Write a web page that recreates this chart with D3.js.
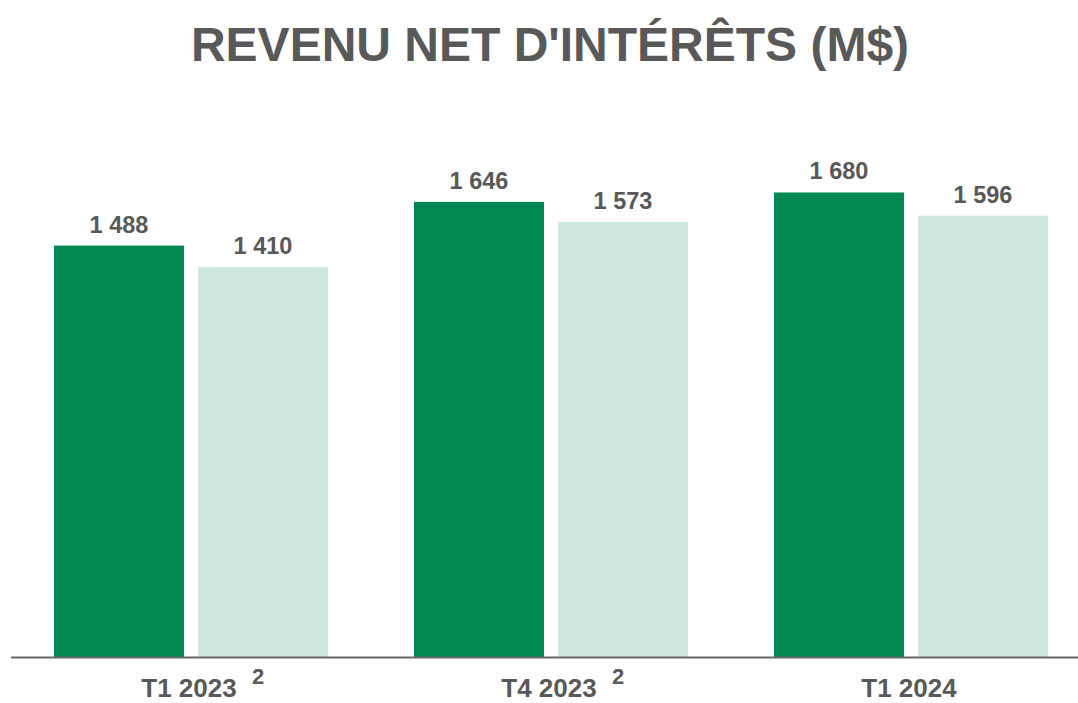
<!DOCTYPE html>
<html>
<head>
<meta charset="utf-8">
<script src="https://cdn.jsdelivr.net/npm/d3@7"></script>
<style>
  html, body { margin: 0; padding: 0; background: #fff; }
  svg { display: block; font-family: "Liberation Sans", Arial, sans-serif; }
</style>
</head>
<body>
<svg id="chart" width="1078" height="703"></svg>
<script>
// data
const categories = ["T1 2023", "T4 2023", "T1 2024"];
const footnotes = ["2", "2", ""];
const series = ["a", "b"];
const seriesA = [1488, 1646, 1680];
const seriesB = [1410, 1573, 1596];

const colors = { a: "#008853", b: "#cde8dc" };
const textColor = "#595959";

const svg = d3.select("#chart");
const W = 1078, H = 703;
const baseY = 657;

const rows = categories.map((c, i) => ({ cat: c, note: footnotes[i], a: seriesA[i], b: seriesB[i] }));

const x0 = d3.scaleBand().domain(categories).range([11, 1091])
  .paddingInner(86 / 360).paddingOuter(43 / 360);
const x1 = d3.scaleBand().domain(series).range([0, x0.bandwidth()])
  .paddingInner(14 / 144).paddingOuter(0);
const y = d3.scaleLinear().domain([0, 2000]).range([baseY, 104]);

const fmt = v => d3.format(",")(v).replace(/,/g, " ");

// title
svg.append("text")
  .attr("x", 550).attr("y", 61)
  .attr("text-anchor", "middle")
  .attr("font-size", 48).attr("font-weight", "bold")
  .attr("fill", textColor)
  .text("REVENU NET D'INTÉRÊTS (M$)");

const g = svg.selectAll("g.grp").data(rows).join("g")
  .attr("class", "grp")
  .attr("transform", d => `translate(${x0(d.cat)},0)`);

g.selectAll("rect").data(d => series.map(k => ({ k, v: d[k] }))).join("rect")
  .attr("x", d => x1(d.k))
  .attr("y", d => y(d.v))
  .attr("width", x1.bandwidth())
  .attr("height", d => baseY - y(d.v))
  .attr("fill", d => colors[d.k]);

g.selectAll("text.val").data(d => series.map(k => ({ k, v: d[k] }))).join("text")
  .attr("class", "val")
  .attr("x", d => x1(d.k) + x1.bandwidth() / 2)
  .attr("y", d => y(d.v) - 13)
  .attr("text-anchor", "middle")
  .attr("font-size", 23.5).attr("font-weight", "bold")
  .attr("fill", textColor)
  .text(d => fmt(d.v));

// baseline
svg.append("line")
  .attr("x1", 11).attr("x2", W).attr("y1", baseY + 0.5).attr("y2", baseY + 0.5)
  .attr("stroke", "#666").attr("stroke-width", 2);

// category labels
svg.selectAll("text.cat").data(rows).join("text")
  .attr("class", "cat")
  .attr("x", d => x0(d.cat) + x0.bandwidth() / 2 - 2)
  .attr("y", 697)
  .attr("text-anchor", "middle")
  .attr("font-size", 26).attr("font-weight", "bold")
  .attr("fill", textColor)
  .text(d => d.cat);

svg.selectAll("text.note").data(rows.filter(d => d.note)).join("text")
  .attr("class", "note")
  .attr("x", d => x0(d.cat) + x0.bandwidth() / 2 + 67)
  .attr("y", 684)
  .attr("text-anchor", "middle")
  .attr("font-size", 22).attr("font-weight", "bold")
  .attr("fill", textColor)
  .text(d => d.note);
</script>
</body>
</html>
